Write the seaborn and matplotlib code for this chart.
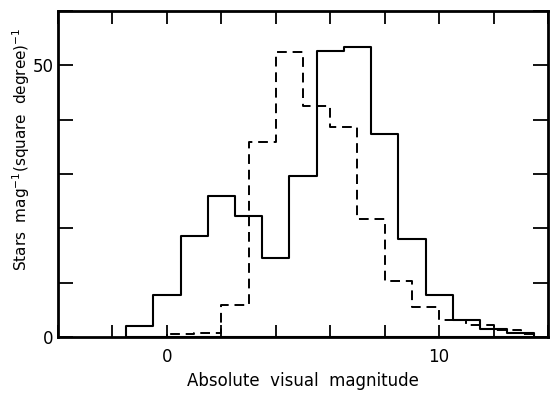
import numpy as np
import pandas as pd
import matplotlib
matplotlib.use("Agg")
import matplotlib.pyplot as plt
import seaborn as sns

# Solid histogram: bins of 1 mag, edges at half-integers
solid_edges = [-1.5, -0.5, 0.5, 1.5, 2.5, 3.5, 4.5, 5.5, 6.5, 7.5, 8.5, 9.5, 10.5, 11.5, 12.5, 13.5]
solid_values = [2.0, 7.8, 18.6, 26.0, 22.3, 14.5, 29.7, 52.6, 53.3, 37.3, 18.0, 7.7, 3.2, 1.5, 0.7]

# Dashed histogram: bins of 1 mag, edges at integers
dashed_edges = [0, 1, 2, 3, 4, 5, 6, 7, 8, 9, 10, 11, 12, 13, 13.5]
dashed_values = [0.5, 0.8, 5.8, 35.8, 52.4, 42.6, 38.6, 21.7, 10.3, 5.6, 3.2, 2.3, 1.3, 0.5]

x_ticks = [-4, -2, 0, 2, 4, 6, 8, 10, 12, 14]
x_ticklabels = ["", "", "0", "", "", "", "", "10", "", ""]
y_ticks = [0, 10, 20, 30, 40, 50, 60]
y_ticklabels = ["0", "", "", "", "", "50", ""]

sns.set_style("ticks")
plt.rcParams["font.family"] = ["DejaVu Sans"]
plt.rcParams["text.color"] = "black"
plt.rcParams["axes.labelcolor"] = "black"

fig = plt.figure(figsize=(5.6, 3.96), dpi=100)
ax = fig.add_axes([58 / 560, 1 - 337 / 396, (548 - 58) / 560, (337 - 11) / 396])

solid_centers = [(a + b) / 2 for a, b in zip(solid_edges[:-1], solid_edges[1:])]
dashed_centers = [(a + b) / 2 for a, b in zip(dashed_edges[:-1], dashed_edges[1:])]
df_s = pd.DataFrame({"mag": solid_centers, "n": solid_values})
df_d = pd.DataFrame({"mag": dashed_centers, "n": dashed_values})

sns.histplot(data=df_s, x="mag", weights="n", bins=solid_edges, element="step",
             fill=True, color="black", alpha=1, linewidth=1.5, ax=ax)
sns.histplot(data=df_d, x="mag", weights="n", bins=dashed_edges, element="step",
             fill=True, color="black", alpha=1, linewidth=1.4,
             linestyle=(0, (5, 3)), ax=ax)
for coll in ax.collections:
    coll.set_facecolor("none")
    coll.set_edgecolor("black")

ax.set_xlim(-4, 14)
ax.set_ylim(0, 60)
ax.set_xticks(x_ticks)
ax.set_xticklabels(x_ticklabels)
ax.set_yticks(y_ticks)
ax.set_yticklabels(y_ticklabels)
ax.tick_params(axis="x", direction="in", top=True, bottom=True, length=9, width=1.3,
               labelsize=12, pad=8, colors="black")
ax.tick_params(axis="y", direction="in", left=True, right=True, length=11, width=1.3,
               labelsize=12, pad=3, colors="black")
for s in ax.spines.values():
    s.set_linewidth(2.0)
    s.set_color("black")
    s.set_zorder(5)

ax.set_xlabel("Absolute  visual  magnitude", fontsize=12, labelpad=4, color="black")
ax.set_ylabel(r"Stars  mag$^{-1}$(square  degree)$^{-1}$", fontsize=11, color="black")
ax.yaxis.set_label_coords(-0.054, 0.575)

fig.savefig("out.png", dpi=100)
